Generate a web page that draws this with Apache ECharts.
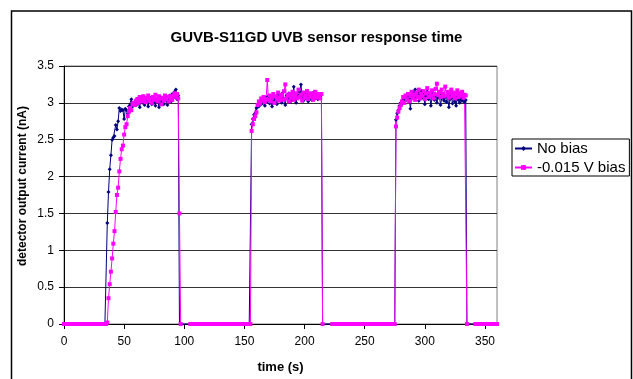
<!DOCTYPE html>
<html>
<head>
<meta charset="utf-8">
<script src="https://cdn.jsdelivr.net/npm/echarts@6/dist/echarts.min.js"></script>
<style>
html,body{margin:0;padding:0;background:#fff;}
#chart{width:633px;height:379px;}
</style>
</head>
<body>
<div id="chart"></div>
<script>
// One sample per second, t = 0 .. 360 s
const noBias = [
/*  0*/ 0,0,0,0,0,0,0,0,0,0,
/* 10*/ 0,0,0,0,0,0,0,0,0,0,
/* 20*/ 0,0,0,0,0,0,0,0,0,0,
/* 30*/ 0,0,0,0,0,0,1.37,1.79,2.10,2.29,
/* 40*/ 2.50,2.53,2.55,2.70,2.64,2.75,2.93,2.89,2.91,2.90,
/* 50*/ 2.78,2.92,2.90,2.86,2.95,2.97,3.05,2.95,2.98,3.02,
/* 60*/ 2.97,3.06,2.99,2.94,3.08,3.00,3.04,2.97,3.06,3.02,
/* 70*/ 2.95,3.08,3.03,2.98,3.07,3.01,2.96,3.05,3.02,2.94,
/* 80*/ 3.07,3.00,3.04,2.98,3.08,3.03,2.97,3.06,3.10,3.02,
/* 90*/ 3.12,3.08,3.15,3.18,3.05,3.10,0,0,0,0,
/*100*/ 0,0,0,0,0,0,0,0,0,0,
/*110*/ 0,0,0,0,0,0,0,0,0,0,
/*120*/ 0,0,0,0,0,0,0,0,0,0,
/*130*/ 0,0,0,0,0,0,0,0,0,0,
/*140*/ 0,0,0,0,0,0,0,0,0,0,
/*150*/ 0,0,0,0,0,0,2.71,2.78,2.84,2.86,
/*160*/ 2.93,2.97,2.95,3.02,2.98,3.05,3.00,2.96,3.07,3.02,
/*170*/ 3.09,2.99,3.04,2.95,3.10,3.03,3.06,2.98,3.12,3.04,
/*180*/ 3.08,3.00,3.14,3.05,2.97,3.10,3.06,3.13,3.01,3.08,
/*190*/ 3.04,3.22,3.06,3.00,3.11,3.07,3.15,3.25,3.09,3.03,
/*200*/ 3.12,3.06,3.10,3.02,3.13,3.07,3.04,3.11,3.15,3.06,
/*210*/ 3.12,3.05,3.10,3.08,3.11,0,0,0,0,0,
/*220*/ 0,0,0,0,0,0,0,0,0,0,
/*230*/ 0,0,0,0,0,0,0,0,0,0,
/*240*/ 0,0,0,0,0,0,0,0,0,0,
/*250*/ 0,0,0,0,0,0,0,0,0,0,
/*260*/ 0,0,0,0,0,0,0,0,0,0,
/*270*/ 0,0,0,0,0,0,2.77,2.86,2.90,2.96,
/*280*/ 3.00,2.98,3.05,3.02,3.08,3.04,3.10,3.06,2.92,3.09,
/*290*/ 3.15,3.12,3.18,3.08,3.14,3.03,3.11,3.16,3.07,3.13,
/*300*/ 2.98,3.09,3.15,3.05,3.11,2.96,3.08,3.13,3.04,3.10,
/*310*/ 3.00,3.07,3.12,2.97,3.06,3.10,3.03,3.09,3.01,3.07,
/*320*/ 2.94,3.05,3.10,2.99,3.06,3.02,2.96,3.08,3.04,3.00,
/*330*/ 3.06,3.03,3.08,3.01,3.04,0,0,0,0,0,
/*340*/ 0,0,0,0,0,0,0,0,0,0,
/*350*/ 0,0,0,0,0,0,0,0,0,0,
/*360*/ 0
];
const bias = [
/*  0*/ 0,0,0,0,0,0,0,0,0,0,
/* 10*/ 0,0,0,0,0,0,0,0,0,0,
/* 20*/ 0,0,0,0,0,0,0,0,0,0,
/* 30*/ 0,0,0,0,0,0,0.02,0.35,0.54,0.71,
/* 40*/ 0.89,1.09,1.26,1.52,1.75,1.85,2.07,2.24,2.37,2.42,
/* 50*/ 2.57,2.67,2.71,2.82,2.88,2.93,2.90,2.98,3.00,2.97,
/* 60*/ 3.03,3.05,3.00,3.08,3.04,3.02,3.09,3.06,3.01,3.07,
/* 70*/ 3.10,3.03,3.06,3.00,3.08,3.04,3.11,3.05,3.02,3.09,
/* 80*/ 3.06,2.98,3.07,3.03,3.10,3.05,3.08,3.02,3.09,3.06,
/* 90*/ 3.04,3.10,3.13,3.08,3.12,3.06,1.50,0,null,null,
/*100*/ null,null,null,null,null,0,0,0,0,0,
/*110*/ 0,0,0,0,0,0,0,0,0,0,
/*120*/ 0,0,0,0,0,0,0,0,0,0,
/*130*/ 0,0,0,0,0,0,0,0,0,0,
/*140*/ 0,0,0,0,0,0,0,0,0,0,
/*150*/ 0,0,0,0,0,0,2.62,2.71,2.78,2.82,
/*160*/ 2.87,2.97,3.02,2.99,3.06,3.03,3.08,3.01,3.05,3.31,
/*170*/ 3.04,3.10,3.02,3.07,3.12,3.00,3.09,3.05,3.14,3.03,
/*180*/ 3.08,3.11,3.04,3.16,3.25,3.06,3.10,3.02,3.12,3.07,
/*190*/ 3.15,3.04,3.09,3.13,3.06,3.18,3.08,3.11,3.03,3.14,
/*200*/ 3.07,3.10,3.16,3.05,3.12,3.08,3.13,3.04,3.10,3.15,
/*210*/ 3.07,3.12,3.09,3.06,3.12,0,null,null,null,null,
/*220*/ null,null,null,0,0,0,0,0,0,0,
/*230*/ 0,0,0,0,0,0,0,0,0,0,
/*240*/ 0,0,0,0,0,0,0,0,0,0,
/*250*/ 0,0,0,0,0,0,0,0,0,0,
/*260*/ 0,0,0,0,0,0,0,0,0,0,
/*270*/ 0,0,0,0,0,0,2.68,2.80,2.88,2.93,
/*280*/ 2.97,3.02,3.08,3.00,3.10,3.05,3.12,3.02,3.09,3.15,
/*290*/ 3.06,3.11,3.04,3.14,3.08,3.18,3.06,3.12,3.09,3.16,
/*300*/ 3.05,3.13,3.20,3.08,3.14,3.10,3.17,3.06,3.12,3.19,
/*310*/ 3.26,3.11,3.15,3.08,3.18,3.12,3.09,3.22,3.10,3.15,
/*320*/ 3.07,3.13,3.18,3.09,3.14,3.06,3.12,3.17,3.08,3.13,
/*330*/ 3.10,3.15,3.07,3.11,3.10,0,null,null,null,null,
/*340*/ null,null,0,0,0,0,0,0,0,0,
/*350*/ 0,0,0,0,0,0,0,0,0,0,
/*360*/ 0
];
const seriesNames = ['No bias', '-0.015 V bias'];
const chartTitle = 'GUVB-S11GD UVB sensor response time';
const xName = 'time (s)';
const yName = 'detector output current (nA)';
const xTicks = { min: 0, max: 360, interval: 50 };
const yTicks = { min: 0, max: 3.5, interval: 0.5 };

const toPairs = arr => arr.map((v, i) => [i, v]);
const FONT = '"Liberation Sans", Arial, sans-serif';

const chart = echarts.init(document.getElementById('chart'), null, { renderer: 'canvas' });
chart.setOption({
  animation: false,
  backgroundColor: '#fff',
  graphic: [
    {
      type: 'rect', z: -1,
      shape: { x: 11.5, y: 11, width: 620, height: 380 },
      style: { fill: 'none', stroke: '#000', lineWidth: 1.5 }
    },
    {
      type: 'text', x: 23, y: 186, rotation: Math.PI / 2,
      style: {
        text: yName, align: 'center', verticalAlign: 'middle',
        font: 'bold 12px "Liberation Sans", Arial, sans-serif', fill: '#000'
      }
    }
  ],
  title: {
    text: chartTitle,
    left: 'center', top: 25,
    textStyle: { fontFamily: FONT, fontSize: 15, fontWeight: 'bold', color: '#000' }
  },
  grid: {
    left: 64, right: 136, top: 66, bottom: 55,
    show: true, borderColor: '#808080', borderWidth: 1, backgroundColor: 'transparent'
  },
  legend: {
    orient: 'vertical', left: 512, top: 139,
    itemWidth: 17, itemHeight: 6, itemGap: 4,
    padding: [2, 4, 1, 2],
    borderColor: '#000', borderWidth: 1, backgroundColor: '#fff',
    textStyle: { fontFamily: FONT, fontSize: 15, color: '#000' },
    data: seriesNames
  },
  xAxis: {
    type: 'value', min: xTicks.min, max: xTicks.max, interval: xTicks.interval,
    name: xName, nameLocation: 'middle', nameGap: 37,
    nameTextStyle: { fontFamily: FONT, fontSize: 13, fontWeight: 'bold', color: '#000' },
    axisLine: { show: true, onZero: false, lineStyle: { color: '#000', width: 1 } },
    axisTick: { show: true, inside: false, length: 5, lineStyle: { color: '#000' } },
    axisLabel: { fontFamily: FONT, fontSize: 12, color: '#000', margin: 12, showMaxLabel: false },
    splitLine: { show: false }
  },
  yAxis: {
    type: 'value', min: yTicks.min, max: yTicks.max, interval: yTicks.interval,
    axisLine: { show: true, lineStyle: { color: '#000', width: 1 } },
    axisTick: { show: true, inside: false, length: 5, lineStyle: { color: '#000' } },
    axisLabel: { fontFamily: FONT, fontSize: 12, color: '#000', margin: 10,
      formatter: v => String(v) },
    splitLine: { show: true, lineStyle: { color: '#333', width: 1 } }
  },
  series: [
    {
      name: seriesNames[0], type: 'line', data: toPairs(noBias),
      symbol: 'diamond', showAllSymbol: true,
      symbolSize: v => (v[1] === 0 ? 1 : 4),
      lineStyle: { color: '#000080', width: 1 },
      itemStyle: { color: '#000080' },
      connectNulls: false
    },
    {
      name: seriesNames[1], type: 'line', data: toPairs(bias),
      symbol: 'rect', symbolSize: 4, showAllSymbol: true,
      lineStyle: { color: '#FF00FF', width: 1 },
      itemStyle: { color: '#FF00FF' },
      connectNulls: false
    }
  ]
});
</script>
</body>
</html>
